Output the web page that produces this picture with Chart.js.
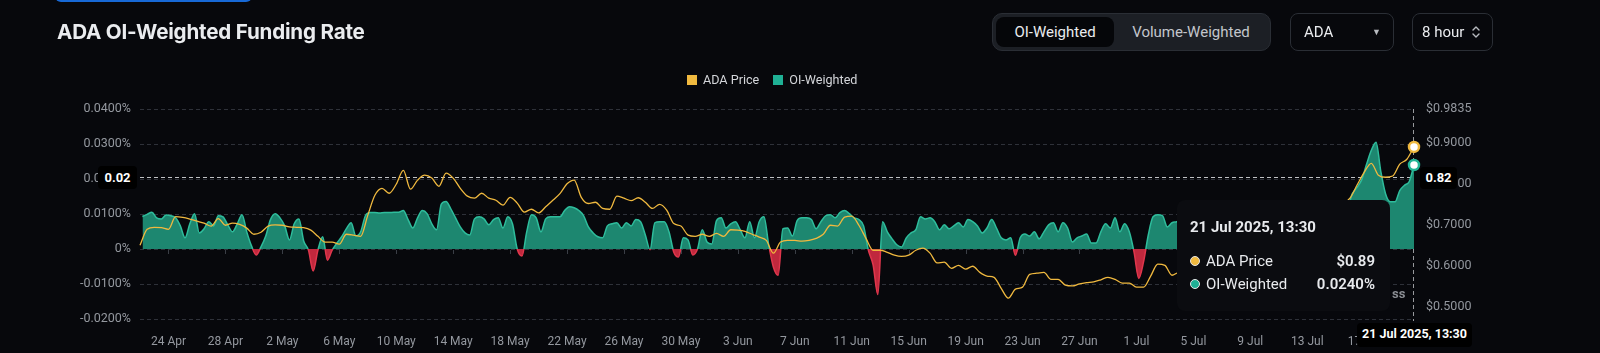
<!DOCTYPE html>
<html>
<head>
<meta charset="utf-8">
<script src="https://cdn.jsdelivr.net/npm/chart.js@4.4.1/dist/chart.umd.min.js"></script>
<style>
html,body{margin:0;padding:0;background:#07080c;width:1600px;height:353px;overflow:hidden;font-family:Roboto,"Noto Sans",sans-serif;}
#wrap{position:relative;width:1600px;height:353px;}
#c{position:absolute;left:0;top:0;}
.topbar{position:absolute;left:55px;top:-4px;width:197px;height:6px;background:#1769d6;border-radius:0 0 6px 6px;}
.title{position:absolute;left:57px;top:18px;font:700 20.6px Inter,Roboto,sans-serif;color:#eaecef;letter-spacing:-0.2px;line-height:28px;white-space:nowrap;}
.seg{position:absolute;left:992px;top:13px;width:279px;height:38px;box-sizing:border-box;background:#1c1f25;border:1px solid #2a2e35;border-radius:10px;}
.seg .on{position:absolute;left:3px;top:3px;width:118px;height:30px;background:#050609;border-radius:8px;color:#eaecef;font-size:15px;line-height:30px;text-align:center;}
.seg .off{position:absolute;left:122px;top:3px;width:152px;height:30px;color:#c3c6cc;font-size:15px;line-height:30px;text-align:center;}
.sel{position:absolute;top:13px;height:38px;box-sizing:border-box;border:1px solid #2a2e35;border-radius:8px;color:#eaecef;font-size:15px;line-height:36px;}
.legend{position:absolute;left:687px;top:71px;height:18px;font-size:12.6px;color:#d4d6da;line-height:18px;white-space:nowrap;}
.legend .sw{display:inline-block;width:10px;height:10px;vertical-align:-1px;margin-right:6px;}
.tip{position:absolute;left:1177px;top:200px;width:213px;height:111px;background:#0b0c10;border-radius:8px;color:#e8eaed;}
.tip .t{position:absolute;left:13px;top:17px;font-weight:700;font-size:15px;line-height:20px;white-space:nowrap;}
.tip .r{position:absolute;left:13px;right:15px;height:20px;font-size:15px;line-height:20px;white-space:nowrap;}
.tip .r .v{position:absolute;right:0;top:0;font-weight:600;}
.tip .r .d{display:inline-block;width:8px;height:8px;border-radius:50%;border:1.5px solid #e6e6e6;vertical-align:0px;margin-right:6px;}
.lab{position:absolute;background:#000;color:#fff;font-weight:700;font-size:13px;border-radius:4px;text-align:center;white-space:nowrap;}
.ss{position:absolute;left:1392px;top:286px;color:#8a8d93;font-weight:700;font-size:13px;}
</style>
</head>
<body>
<div id="wrap">
  <canvas id="c" width="1600" height="353"></canvas>
  <div class="topbar"></div>
  <div class="title">ADA OI-Weighted Funding Rate</div>
  <div class="seg"><div class="on">OI-Weighted</div><div class="off">Volume-Weighted</div></div>
  <div class="sel" style="left:1290px;width:104px;"><span style="position:absolute;left:13px;">ADA</span><span style="position:absolute;left:81px;font-size:9px;color:#b8bbc0;">&#9660;</span></div>
  <div class="sel" style="left:1412px;width:81px;"><span style="position:absolute;left:9px;">8 hour</span>
    <svg style="position:absolute;left:58px;top:10px;" width="10" height="16" viewBox="0 0 10 16"><path d="M2 6 L5 3 L8 6 M2 10 L5 13 L8 10" fill="none" stroke="#b8bbc0" stroke-width="1.4" stroke-linecap="round" stroke-linejoin="round"/></svg></div>
  <div class="legend"><span class="sw" style="background:#f0b93f"></span><span style="margin-right:14px;">ADA Price</span><span class="sw" style="background:#1fb095"></span><span>OI-Weighted</span></div>
  <div class="ss">ss</div>
  <div class="tip">
    <div class="t">21 Jul 2025, 13:30</div>
    <div class="r" style="top:51px;"><span class="d" style="background:#f0b93f"></span>ADA Price<span class="v">$0.89</span></div>
    <div class="r" style="top:74px;"><span class="d" style="background:#1fb095"></span>OI-Weighted<span class="v">0.0240%</span></div>
  </div>
  <div class="lab" id="labL">0.02</div>
  <div class="lab" id="labR">0.82</div>
  <div class="lab" id="labX">21 Jul 2025, 13:30</div>
</div>
<script>
// ---- data (days measured from 24 Apr 00:00; last point = hovered point) ----
const END_DAY = 87.5;
const FUNDING_STEP = 1/3;   // 8-hour funding intervals
const PRICE_STEP = 0.5;     // 12-hour price samples

const tickDays = [0,4,8,12,16,20,24,28,32,36,40,44,48,52,56,60,64,68,72,76,80,84];
const tickLabels = ['24 Apr','28 Apr','2 May','6 May','10 May','14 May','18 May','22 May','26 May','30 May','3 Jun','7 Jun','11 Jun','15 Jun','19 Jun','23 Jun','27 Jun','1 Jul','5 Jul','9 Jul','13 Jul','17 Jul'];
const priceTicks = [0.5,0.6,0.7,0.8,0.9,0.9835];

// OI-weighted funding rate, in percent
const fundingRate = [
 0.0093,0.0099,0.0105,0.0089,0.0086,0.0097,0.0095,0.0089,0.0066,0.0032,
 0.0072,0.0101,0.0046,0.0058,0.0078,0.0066,0.0095,0.0092,0.0069,0.0049,
 0.0072,0.0098,0.0049,0.0009,-0.0017,0.0006,0.0037,0.0084,0.0101,0.0089,
 0.0066,0.0026,0.0072,0.0086,0.0023,-0.0003,-0.0063,-0.0003,0.0035,-0.0032,
 -0.0003,0.0017,0.0035,0.0058,0.0075,0.0037,0.0049,0.0095,0.0104,0.0104,
 0.0103,0.0104,0.0104,0.0105,0.0105,0.0110,0.0084,0.0060,0.0089,0.0110,
 0.0101,0.0072,0.0055,0.0128,0.0136,0.0115,0.0089,0.0063,0.0046,0.0040,
 0.0086,0.0092,0.0086,0.0069,0.0084,0.0089,0.0060,0.0092,0.0072,0.0000,
 -0.0020,0.0049,0.0098,0.0089,0.0049,0.0086,0.0092,0.0092,0.0092,0.0110,
 0.0121,0.0118,0.0110,0.0095,0.0063,0.0046,0.0035,0.0032,0.0066,0.0072,
 0.0075,0.0060,0.0075,0.0066,0.0084,0.0078,0.0040,-0.0002,0.0075,0.0078,
 0.0078,0.0049,-0.0009,-0.0023,0.0032,0.0026,-0.0017,0.0000,0.0055,0.0020,
 0.0014,0.0081,0.0089,0.0060,0.0072,0.0078,0.0055,0.0032,0.0078,0.0032,
 0.0078,0.0092,0.0012,-0.0052,-0.0075,0.0058,0.0060,0.0037,0.0081,0.0089,
 0.0089,0.0084,0.0058,0.0078,0.0095,0.0098,0.0089,0.0104,0.0110,0.0101,
 0.0089,0.0084,0.0066,-0.0003,-0.0045,-0.0130,0.0078,0.0049,0.0029,0.0012,
 0.0006,0.0032,0.0046,0.0055,0.0092,0.0086,0.0089,0.0078,0.0055,0.0069,
 0.0058,0.0066,0.0075,0.0063,0.0084,0.0078,0.0066,0.0046,0.0060,0.0084,
 0.0060,0.0032,0.0026,0.0032,-0.0018,0.0032,0.0043,0.0037,0.0049,0.0029,
 0.0049,0.0069,0.0075,0.0049,0.0075,0.0060,0.0020,0.0032,0.0037,0.0043,
 0.0017,0.0017,0.0049,0.0072,0.0060,0.0089,0.0049,0.0072,0.0049,-0.0009,
 -0.0084,-0.0037,0.0040,0.0092,0.0098,0.0095,0.0063,0.0075,0.0078,0.0085,
 0.0070,0.0060,0.0072,0.0085,0.0090,0.0075,0.0065,0.0080,0.0095,0.0100,
 0.0088,0.0075,0.0082,0.0098,0.0105,0.0092,0.0085,0.0100,0.0110,0.0102,
 0.0090,0.0098,0.0105,0.0110,0.0105,0.0098,0.0105,0.0112,0.0115,0.0110,
 0.0108,0.0112,0.0115,0.0118,0.0120,0.0158,0.0176,0.0199,0.0242,0.0282,
 0.0305,0.0222,0.0158,0.0135,0.0135,0.0167,0.0182,0.0193,0.0240
];

// ADA price, USD
const adaPrice = [
 0.651,0.690,0.695,0.694,0.690,0.721,0.719,0.715,0.710,0.705,
 0.698,0.716,0.700,0.705,0.702,0.693,0.678,0.683,0.698,0.701,
 0.700,0.696,0.695,0.694,0.688,0.673,0.659,0.659,0.654,0.678,
 0.676,0.673,0.724,0.773,0.790,0.778,0.800,0.834,0.788,0.810,
 0.822,0.815,0.795,0.827,0.815,0.790,0.771,0.766,0.778,0.766,
 0.761,0.749,0.768,0.754,0.732,0.739,0.730,0.745,0.761,0.777,
 0.801,0.810,0.768,0.753,0.756,0.741,0.739,0.771,0.766,0.760,
 0.767,0.756,0.741,0.751,0.737,0.704,0.698,0.676,0.673,0.678,
 0.673,0.680,0.673,0.689,0.688,0.685,0.678,0.671,0.663,0.632,
 0.659,0.663,0.663,0.661,0.663,0.668,0.678,0.700,0.698,0.720,
 0.722,0.700,0.668,0.639,0.639,0.634,0.627,0.624,0.627,0.639,
 0.644,0.632,0.608,0.610,0.595,0.602,0.593,0.600,0.585,0.576,
 0.573,0.546,0.522,0.544,0.549,0.580,0.583,0.585,0.568,0.568,
 0.554,0.552,0.557,0.560,0.562,0.567,0.573,0.568,0.559,0.559,
 0.549,0.549,0.576,0.605,0.602,0.578,0.585,0.580,0.578,0.585,
 0.590,0.588,0.595,0.600,0.598,0.610,0.625,0.640,0.660,0.690,
 0.715,0.725,0.735,0.730,0.740,0.745,0.735,0.730,0.740,0.752,
 0.766,0.798,0.829,0.851,0.822,0.817,0.820,0.849,0.861,0.891
];

// ---- styling ----
const PRICE_COLOR = '#f0b93f';
const TEAL_LINE = '#2ebd9c';
const TEAL_FILL = '#1d8770';
const RED_LINE = '#e0364c';
const RED_FILL = '#c0283d';
const TICK_COLOR = '#94989f';
const GRID_COLOR = '#2e3139';

const fundingStart = END_DAY - (fundingRate.length - 1) * FUNDING_STEP;
const priceStart = END_DAY - (adaPrice.length - 1) * PRICE_STEP;
const fundingData = fundingRate.map((v, i) => ({x: fundingStart + i * FUNDING_STEP, y: v}));
const priceData = adaPrice.map((v, i) => ({x: priceStart + i * PRICE_STEP, y: v}));

function fundingBorder(ctx) {
  const chart = ctx.chart;
  const a = chart.chartArea;
  if (!a) return TEAL_LINE;
  const y0 = chart.scales.y.getPixelForValue(0);
  const f = Math.min(1, Math.max(0, (y0 - a.top) / (a.bottom - a.top)));
  const g = chart.ctx.createLinearGradient(0, a.top, 0, a.bottom);
  g.addColorStop(0, TEAL_LINE); g.addColorStop(f, TEAL_LINE);
  g.addColorStop(f, RED_LINE); g.addColorStop(1, RED_LINE);
  return g;
}

const overlay = {
  id: 'overlay',
  beforeDatasetsDraw(chart) {
    const {ctx, chartArea: a, scales: {x, y}} = chart;
    const y0 = Math.round(y.getPixelForValue(0));
    ctx.save();
    ctx.strokeStyle = '#3a3e46'; ctx.lineWidth = 1;
    x.ticks.forEach(t => {
      const px = Math.round(x.getPixelForValue(t.value)) + 0.5;
      ctx.beginPath(); ctx.moveTo(px, y0 + 1); ctx.lineTo(px, y0 + 5); ctx.stroke();
    });
    const cx = Math.round(x.getPixelForValue(END_DAY)) - 0.5;
    const cy = Math.round(y.getPixelForValue(0.02)) - 1.5;
    ctx.setLineDash([4, 3]);
    ctx.strokeStyle = 'rgba(225,227,230,0.85)';
    ctx.beginPath(); ctx.moveTo(a.left, cy); ctx.lineTo(a.right, cy); ctx.stroke();
    ctx.strokeStyle = 'rgba(200,202,206,0.75)';
    ctx.beginPath(); ctx.moveTo(cx, a.top); ctx.lineTo(cx, a.bottom + 2); ctx.stroke();
    ctx.restore();
  },
  afterDraw(chart) {
    const {scales: {x, y}} = chart;
    const cx = x.getPixelForValue(END_DAY);
    const cy = y.getPixelForValue(0.02) - 1.5;
    const L = document.getElementById('labL');
    Object.assign(L.style, {left: '98px', top: (cy - 11.5) + 'px', width: '39px', height: '23px', lineHeight: '23px'});
    const R = document.getElementById('labR');
    Object.assign(R.style, {left: '1420px', top: (cy - 11) + 'px', width: '37px', height: '22px', lineHeight: '22px'});
    const X = document.getElementById('labX');
    Object.assign(X.style, {left: (cx - 57) + 'px', top: '323px', width: '115px', height: '24px', lineHeight: '22px', fontSize: '12.5px'});
  }
};

new Chart(document.getElementById('c'), {
  type: 'line',
  data: {
    datasets: [
      {
        label: 'ADA Price', data: priceData, yAxisID: 'y1',
        borderColor: PRICE_COLOR, borderWidth: 1.3, fill: false,
        cubicInterpolationMode: 'monotone', clip: false,
        pointRadius: c => c.dataIndex === adaPrice.length - 1 ? 5 : 0,
        pointBackgroundColor: '#ffffff', pointBorderColor: PRICE_COLOR, pointBorderWidth: 2.5
      },
      {
        label: 'OI-Weighted', data: fundingData, yAxisID: 'y',
        borderColor: fundingBorder, borderWidth: 1.5,
        fill: {target: 'origin', above: TEAL_FILL, below: RED_FILL},
        cubicInterpolationMode: 'monotone', clip: false,
        pointRadius: c => c.dataIndex === fundingRate.length - 1 ? 5 : 0,
        pointBackgroundColor: '#ffffff', pointBorderColor: '#24b596', pointBorderWidth: 2.5
      }
    ]
  },
  options: {
    responsive: false, animation: false, devicePixelRatio: 1, events: [],
    layout: {padding: {top: 109, left: 0, right: 0, bottom: 0}},
    plugins: {legend: {display: false}, tooltip: {enabled: false}},
    scales: {
      x: {
        type: 'linear', min: -2, max: END_DAY,
        afterBuildTicks: s => { s.ticks = tickDays.map(v => ({value: v})); },
        afterFit: s => { s.height = 34; },
        grid: {display: false}, border: {display: false},
        ticks: {callback: (v, i) => tickLabels[i], color: TICK_COLOR, font: {family: 'Roboto', size: 12}, padding: 8, maxRotation: 0, autoSkip: false}
      },
      y: {
        position: 'left', min: -0.02, max: 0.04,
        afterFit: s => { s.width = 140; },
        grid: {color: GRID_COLOR, drawTicks: false, lineWidth: 1},
        border: {display: false, dash: [4, 3]},
        ticks: {stepSize: 0.01, padding: 9, color: TICK_COLOR, font: {family: 'Roboto', size: 12.5},
          callback: v => Math.abs(v) < 1e-9 ? '0%' : v.toFixed(4) + '%'}
      },
      y1: {
        position: 'right', min: 0.4713, max: 0.9835,
        afterBuildTicks: s => { s.ticks = priceTicks.map(v => ({value: v})); },
        afterFit: s => { s.width = 186; },
        grid: {display: false, drawTicks: false}, border: {display: false},
        ticks: {padding: 12, color: TICK_COLOR, font: {family: 'Roboto', size: 12.5},
          callback: v => '$' + v.toFixed(4)}
      }
    }
  },
  plugins: [overlay]
});
</script>
</body>
</html>
